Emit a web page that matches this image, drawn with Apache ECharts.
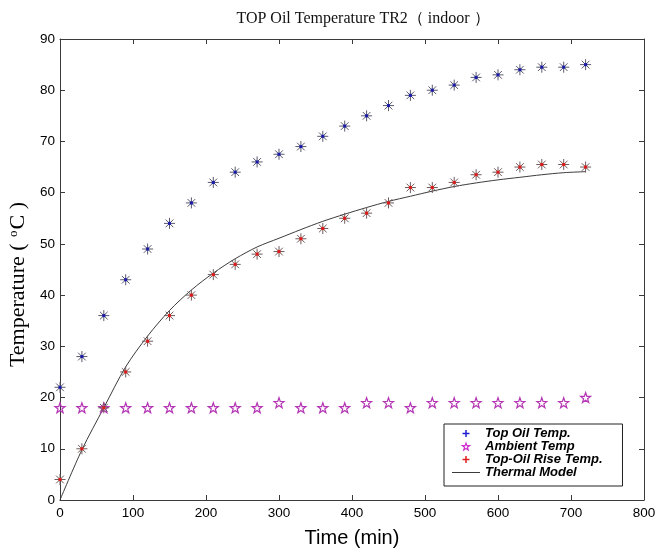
<!DOCTYPE html>
<html>
<head>
<meta charset="utf-8">
<script src="https://cdn.jsdelivr.net/npm/echarts@6/dist/echarts.min.js"></script>
<style>
  html, body { margin: 0; padding: 0; background: #fff; }
  #chart { width: 656px; height: 548px; }
</style>
</head>
<body>
<div id="chart"></div>
<script>
// time in minutes
var times = [0, 30, 60, 90, 120, 150, 180, 210, 240, 270, 300, 330, 360, 390, 420, 450, 480, 510, 540, 570, 600, 630, 660, 690, 720];
var topOil = [22, 28, 36, 43, 49, 54, 58, 62, 64, 66, 67.5, 69, 71, 73, 75, 77, 79, 80, 81, 82.5, 83, 84, 84.5, 84.5, 85];
var ambient = [18, 18, 18, 18, 18, 18, 18, 18, 18, 18, 19, 18, 18, 18, 19, 19, 18, 19, 19, 19, 19, 19, 19, 19, 20];
var riseTemp = [4, 10, 18, 25, 31, 36, 40, 44, 46, 48, 48.5, 51, 53, 55, 56, 58, 61, 61, 62, 63.5, 64, 65, 65.5, 65.5, 65];
var thermalModel = [0, 9.8, 18, 26, 32, 37, 41, 44.3, 47.1, 49.4, 51.1, 52.8, 54.4, 55.8, 57.1, 58.3, 59.3, 60.3, 61.2, 61.9, 62.5, 63, 63.5, 63.9, 64.1];
var xTicks = [0, 100, 200, 300, 400, 500, 600, 700, 800];
var yTicks = [0, 10, 20, 30, 40, 50, 60, 70, 80, 90];

var asterisk = 'path://M5,0L5,10M0,5L10,5M1.5,1.5L8.5,8.5M1.5,8.5L8.5,1.5';
var plus = 'path://M5,0L5,10M0,5L10,5';
var star = 'path://M5,0L6.18,3.38L9.76,3.45L6.9,5.62L7.94,9.05L5,7L2.06,9.05L3.1,5.62L0.24,3.45L3.82,3.38Z';
var thinLine = 'path://M0,4.5L28,4.5L28,5.5L0,5.5Z';

function pairs(ys) {
  return times.map(function (t, i) { return [t, ys[i]]; });
}

var chart = echarts.init(document.getElementById('chart'));

var axisColor = '#3a3a3a';

option = {
  animation: false,
  backgroundColor: '#fff',
  title: {
    text: 'TOP Oil Temperature TR2（ indoor ）',
    left: 358,
    textAlign: 'center',
    top: 6,
    textStyle: {
      fontFamily: 'Liberation Serif, Times New Roman, serif',
      fontWeight: 'normal',
      fontSize: 16,
      color: '#111'
    }
  },
  grid: { left: 60, right: 12, top: 39, bottom: 48, outerBoundsMode: 'none' },
  legend: {
    orient: 'vertical',
    left: 444,
    top: 424,
    padding: [3, 20, 7, 8],
    itemGap: 0,
    itemWidth: 28,
    itemHeight: 7,
    borderColor: '#222',
    borderWidth: 1,
    backgroundColor: '#fff',
    textStyle: {
      fontFamily: 'Liberation Sans, Arial, sans-serif',
      fontStyle: 'italic',
      fontWeight: 'bold',
      fontSize: 13,
      lineHeight: 12.5,
      color: '#000'
    },
    data: [
      { name: 'Top Oil Temp.', icon: plus, itemStyle: { color: 'none', borderColor: '#2020d0', borderWidth: 1.5 } },
      { name: 'Ambient Temp', icon: star, itemStyle: { color: 'none', borderColor: '#d030d0', borderWidth: 1.2 } },
      { name: 'Top-Oil Rise Temp.', icon: plus, itemStyle: { color: 'none', borderColor: '#e02020', borderWidth: 1.5 } },
      { name: 'Thermal Model', icon: thinLine, itemStyle: { color: '#3c3c3c', borderWidth: 0 } }
    ]
  },
  xAxis: [{
    type: 'value',
    min: 0,
    max: 800,
    interval: 100,
    name: 'Time (min)',
    nameLocation: 'middle',
    nameGap: 28,
    nameTextStyle: { fontFamily: 'Liberation Sans, Arial, sans-serif', fontSize: 20, color: '#000' },
    axisLine: { onZero: false, lineStyle: { color: axisColor } },
    axisTick: { inside: true, length: 5, lineStyle: { color: axisColor } },
    axisLabel: {
      margin: 6,
      fontFamily: 'Liberation Sans, Arial, sans-serif',
      fontSize: 13.5,
      color: '#000',
      formatter: function (v) { return xTicks.indexOf(v) >= 0 ? String(v) : ''; }
    },
    splitLine: { show: false }
  }, {
    type: 'value',
    position: 'top',
    min: 0,
    max: 800,
    interval: 100,
    axisLine: { show: true, onZero: false, lineStyle: { color: axisColor } },
    axisTick: { inside: true, length: 5, lineStyle: { color: axisColor } },
    axisLabel: { show: false },
    splitLine: { show: false }
  }],
  yAxis: [{
    type: 'value',
    min: 0,
    max: 90,
    interval: 10,
    name: 'Temperature ( ' + '{sup|o}' + 'C )',
    nameLocation: 'middle',
    nameGap: 29,
    nameTextStyle: {
      fontFamily: 'Liberation Serif, Times New Roman, serif',
      fontSize: 22,
      color: '#000',
      padding: [0, 30, 0, 0],
      rich: {
        sup: {
          fontFamily: 'Liberation Serif, Times New Roman, serif',
          fontSize: 13,
          verticalAlign: 'top',
          padding: [0, 1, 9, 1],
          color: '#000'
        }
      }
    },
    axisLine: { show: true, onZero: false, lineStyle: { color: axisColor } },
    axisTick: { inside: true, length: 5, lineStyle: { color: axisColor } },
    axisLabel: {
      margin: 5,
      fontFamily: 'Liberation Sans, Arial, sans-serif',
      fontSize: 13.5,
      color: '#000',
      formatter: function (v) { return yTicks.indexOf(v) >= 0 ? String(v) : ''; }
    },
    splitLine: { show: false }
  }, {
    type: 'value',
    position: 'right',
    min: 0,
    max: 90,
    interval: 10,
    axisLine: { show: true, onZero: false, lineStyle: { color: axisColor } },
    axisTick: { show: true, inside: true, length: 5, lineStyle: { color: axisColor } },
    axisLabel: { show: false },
    splitLine: { show: false }
  }],
  series: [{
    name: 'Thermal Model',
    type: 'line',
    smooth: 0.3,
    symbol: 'none',
    lineStyle: { color: '#3c3c3c', width: 1 },
    itemStyle: { color: '#3c3c3c' },
    data: pairs(thermalModel),
    z: 2
  }, {
    name: 'Ambient Temp',
    type: 'scatter',
    symbol: star,
    symbolSize: 10,
    itemStyle: { color: 'none', borderColor: '#b436b4', borderWidth: 1.2, opacity: 1 },
    data: pairs(ambient),
    z: 3
  }, {
    name: 'Top Oil Temp.',
    type: 'scatter',
    symbol: asterisk,
    symbolSize: 11,
    itemStyle: { color: 'none', borderColor: '#5a5a70', borderWidth: 1, opacity: 1 },
    data: pairs(topOil),
    z: 3
  }, {
    name: 'topOilDot',
    type: 'scatter',
    symbol: 'rect',
    symbolSize: 3,
    itemStyle: { color: '#1a1aa8', opacity: 1 },
    data: pairs(topOil),
    z: 4
  }, {
    name: 'Top-Oil Rise Temp.',
    type: 'scatter',
    symbol: asterisk,
    symbolSize: 11,
    itemStyle: { color: 'none', borderColor: '#705a5a', borderWidth: 1, opacity: 1 },
    data: pairs(riseTemp),
    z: 3
  }, {
    name: 'riseDot',
    type: 'scatter',
    symbol: 'rect',
    symbolSize: 3,
    itemStyle: { color: '#e01818', opacity: 1 },
    data: pairs(riseTemp),
    z: 4
  }]
};

chart.setOption(option);
</script>
</body>
</html>
